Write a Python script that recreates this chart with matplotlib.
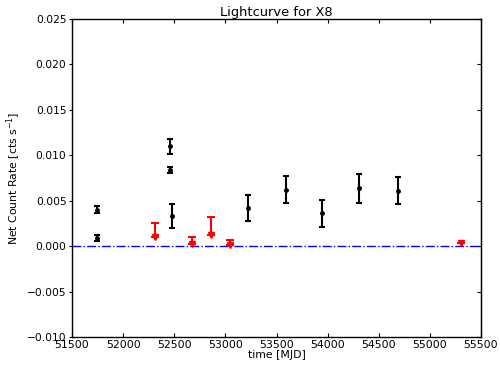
import numpy as np
import matplotlib
matplotlib.use("Agg")
import matplotlib.pyplot as plt

# detections (MJD, rate, error)
det_mjd = [51745, 51745, 52458, 52458, 52475, 53221, 53593, 53945, 54307, 54688]
det_rate = [0.0040, 0.0009, 0.0110, 0.0084, 0.0033, 0.0042, 0.0062, 0.0036, 0.0064, 0.0061]
det_err = [0.0004, 0.0003, 0.0008, 0.0003, 0.0013, 0.0014, 0.0015, 0.0015, 0.0016, 0.0015]

# upper limits (MJD, marker value, upper limit)
ul_mjd = [52312, 52673, 52859, 53045, 55302]
ul_rate = [0.0010, 0.0002, 0.0012, 0.0001, 0.0003]
ul_top = [0.0026, 0.0010, 0.0032, 0.0007, 0.0003]

yticks = np.arange(-0.010, 0.0251, 0.005)
ylabels = [f"{v:.3f}".replace('-', '\u2212') for v in yticks]

fig = plt.figure(figsize=(5.0, 3.7), dpi=100)
ax = fig.add_axes([0.144, 0.089, 0.818, 0.8596])

ax.axhline(0.0, color='blue', linestyle='-.', linewidth=1.0)

ul_up = np.array(ul_top) - np.array(ul_rate)
ax.errorbar(ul_mjd, ul_rate, yerr=[np.zeros(len(ul_rate)), ul_up],
            fmt='v', color='red', ecolor='red', markersize=5,
            elinewidth=1.5, capsize=3, capthick=1.5)

ax.errorbar(det_mjd, det_rate, yerr=det_err, fmt='o', color='black',
            markersize=2.5, elinewidth=1.5, capsize=2, capthick=1.5)

ax.set_xlim(51500, 55500)
ax.set_ylim(-0.010, 0.025)
ax.set_xticks(np.arange(51500, 55501, 500))
ax.set_yticks(yticks)
ax.set_yticklabels(ylabels)

ax.tick_params(axis='x', direction='in', top=True, length=3, labelsize=7.9, pad=2)
ax.tick_params(axis='y', direction='out', left=True, right=False, length=2.5,
               labelsize=7.7, pad=1.5)
sec = ax.secondary_yaxis('right')
sec.set_yticks(yticks)
sec.tick_params(direction='in', length=3, labelright=False)
for s in ax.spines.values():
    s.set_linewidth(1.0)

ax.set_xlabel('time [MJD]', fontsize=7.8, labelpad=0)
ax.set_ylabel('Net Count Rate [cts s$^{-1}$]', fontsize=7.8, labelpad=3)
ax.set_title('Lightcurve for X8', fontsize=9.4, pad=2)

fig.savefig('out.png', dpi=100)
